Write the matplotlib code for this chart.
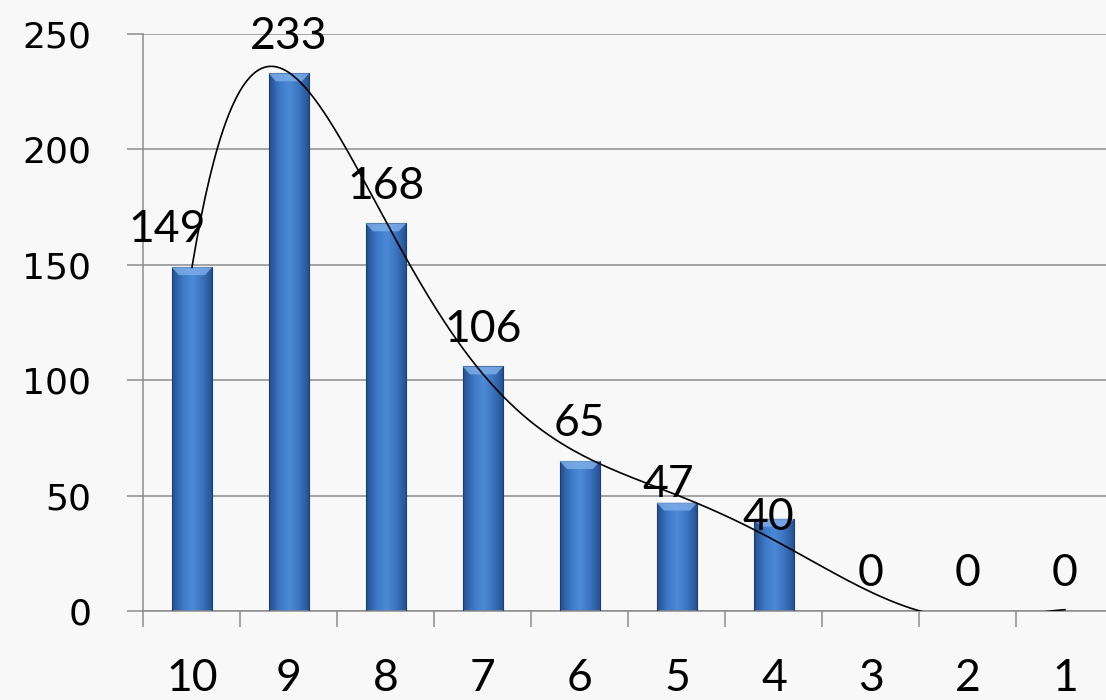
import numpy as np
import matplotlib
matplotlib.use("Agg")
import matplotlib.pyplot as plt
from matplotlib.colors import LinearSegmentedColormap
from matplotlib.patches import Polygon

categories = ["10", "9", "8", "7", "6", "5", "4", "3", "2", "1"]
counts = [149, 233, 168, 106, 65, 47, 40, 0, 0, 0]
y_ticks = [0, 50, 100, 150, 200, 250]

# label nudges (points) where the labels were moved by hand in the original
label_nudge = {0: (-18, 0), 5: (-6, -14), 6: (-4, -26)}

plt.rcParams['font.family'] = ['Lato', 'DejaVu Sans']

fig = plt.figure(figsize=(11.06, 7.0), dpi=100, facecolor='#f8f8f8')
ax = fig.add_axes([0.1297, 0.1271, 0.877, 0.8243])
ax.set_facecolor('#f8f8f8')

x = np.arange(len(categories))
bar_w = 0.42
ax.set_xlim(-0.5, len(categories) - 0.5)
ax.set_ylim(0, 250)

# bars with a left-right gradient
cmap = LinearSegmentedColormap.from_list('bar', ['#244f8e', '#3c78c6', '#4d8ad6', '#3a73be', '#23508f'])
grad = np.linspace(0, 1, 64).reshape(1, -1)
px = 250 / 577.0
for xi, v in zip(x, counts):
    if v <= 0:
        continue
    bars = ax.bar(xi, v, width=bar_w, color='none', edgecolor='#1c3f70', linewidth=0.8, zorder=3)
    rect = bars[0]
    im = ax.imshow(grad, cmap=cmap, aspect='auto', zorder=2,
                   extent=[xi - bar_w / 2, xi + bar_w / 2, 0, v])
    im.set_clip_path(rect)
    # bevel on top
    h = 8 * px
    d = bar_w * 0.18
    top = Polygon([[xi - bar_w / 2, v], [xi + bar_w / 2, v],
                   [xi + bar_w / 2 - d, v - h], [xi - bar_w / 2 + d, v - h]],
                  closed=True, facecolor='#7fb0ea', edgecolor='none', alpha=0.8, zorder=3)
    ax.add_patch(top)

# polynomial trend line (6th order, like the spreadsheet trendline)
coef = np.polyfit(x + 1, counts, 6)
xs = np.linspace(1, len(categories), 400)
ax.plot(xs - 1, np.polyval(coef, xs), color='black', lw=1.2, zorder=4)

for i, v in enumerate(counts):
    dx, dy = label_nudge.get(i, (0, 0))
    ax.annotate(str(v), (x[i], v), xytext=(dx, 12 + dy), textcoords='offset points',
                ha='center', va='bottom', fontsize=32, color='black', zorder=5)

ax.set_yticks(y_ticks)
ax.set_yticklabels([str(t) for t in y_ticks], fontfamily='DejaVu Sans', fontsize=26)
ax.set_xticks(x)
ax.set_xticklabels(categories)
ax.set_xticks(np.arange(-0.5, len(categories)), minor=True)
ax.tick_params(axis='x', which='major', length=0, labelsize=32, pad=34)
ax.tick_params(axis='x', which='minor', length=11.5, width=1.1, color='#8c8c8c')
ax.tick_params(axis='y', length=11.5, width=1.1, color='#8c8c8c', pad=26)
ax.yaxis.grid(True, color='#8c8c8c', lw=1.1, zorder=1)
ax.set_axisbelow(True)
for s in ['top', 'right']:
    ax.spines[s].set_visible(False)
for s in ['left', 'bottom']:
    ax.spines[s].set_color('#8c8c8c')
    ax.spines[s].set_linewidth(1.1)

fig.savefig('out.png', dpi=100, facecolor=fig.get_facecolor())
